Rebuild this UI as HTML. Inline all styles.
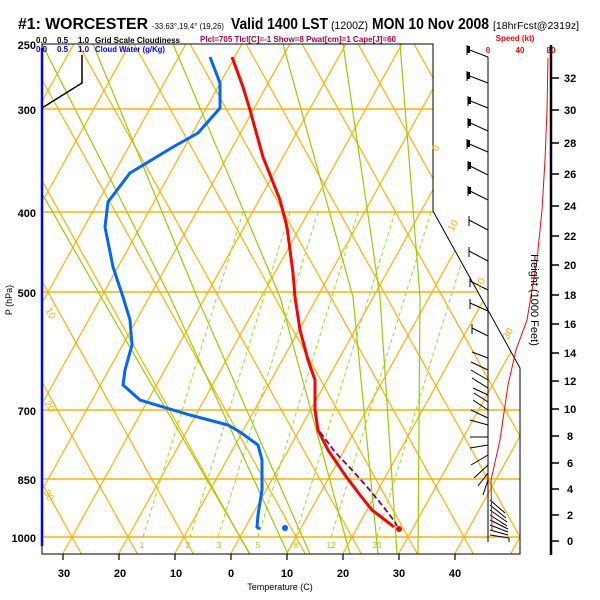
<!DOCTYPE html>
<html><head><meta charset="utf-8"><style>
html,body{margin:0;padding:0;background:#fff;}
svg{display:block;font-family:"Liberation Sans",sans-serif;}
</style></head><body>
<svg width="600" height="600" viewBox="0 0 600 600" xmlns="http://www.w3.org/2000/svg">
<defs>
<clipPath id="c"><polygon points="42,44 433,44 433,211 520,368 520,554 42,554"/></clipPath>
</defs>
<rect width="600" height="600" fill="#fff"/>
<g clip-path="url(#c)" fill="none">
<g stroke="#ffb000" stroke-width="1.2">
<path d="M-200,537 L80,33 M-144,537 L136,33 M-88,537 L192,33 M-32,537 L248,33 M16,537 L296,33 M72,537 L352,33 M128,537 L408,33 M184,537 L464,33 M240,537 L520,33 M296,537 L576,33 M352,537 L632,33 M408,537 L688,33 M464,537 L744,33 M520,537 L800,33 M576,537 L856,33"/>
<path d="M16,537 L-264,33 M72,537 L-208,33 M128,537 L-152,33 M184,537 L-96,33 M240,537 L-40,33 M296,537 L16,33 M352,537 L72,33 M408,537 L128,33 M464,537 L184,33 M520,537 L240,33 M576,537 L296,33 M632,537 L352,33 M688,537 L408,33 M744,537 L464,33 M800,537 L520,33 M856,537 L576,33"/>
<path d="M16,537 L-30,620 M72,537 L26,620 M128,537 L82,620 M184,537 L138,620 M240,537 L194,620 M296,537 L250,620 M352,537 L306,620 M408,537 L362,620 M464,537 L418,620 M520,537 L474,620 M16,537 L62,620 M72,537 L118,620 M128,537 L174,620 M184,537 L230,620 M240,537 L286,620 M296,537 L342,620 M352,537 L398,620 M408,537 L454,620 M464,537 L510,620 M-40,537 L6,620"/>
</g>
<g stroke="#ffb000" stroke-width="1.5">
<path d="M42,109H600 M42,212H600 M42,292H600 M42,410H600 M42,479H600 M42,537H600"/>
</g>
<g stroke="#99dd22" stroke-width="1" stroke-dasharray="4,3">
<path d="M143,537 L243,212 M190,537 L290,212 M218,537 L318,212 M258,537 L358,212 M295,537 L395,212 M331,537 L431,212 M377,537 L477,212"/>
</g>
<g stroke="#99cc00" stroke-width="1.2" fill="none">
<polyline points="288,554 170,297 40,40"/>
<polyline points="310,554 197,297 93,44"/>
<polyline points="350,554 280,297 173,44"/>
<polyline points="378,554 353,297 283,44"/>
<polyline points="397,554 380,297 343,44"/>
<polyline points="418,554 420,297 400,44"/>
<polyline points="250,554 120,330 0,120"/>
</g>
</g>
<polygon points="42,44 433,44 433,211 520,368 520,554 42,554" fill="none" stroke="#000" stroke-width="1"/>
<line x1="42" y1="48" x2="42" y2="546" stroke="#0000ff" stroke-width="2.5"/>
<polyline points="82,55 82,83 42,108" fill="none" stroke="#000" stroke-width="1.5"/>
<polyline fill="none" stroke="#ff0000" stroke-width="3" points="232,57 243,87 250,110 263,157 280,200 287,227 293,273 295,297 300,330 308,360 315,380 315,410 318,430 328,450 345,475 360,495 372,510 385,520 394,527"/>
<circle cx="399" cy="529" r="3" fill="#ff0000"/>
<polyline fill="none" stroke="#800060" stroke-width="1.8" stroke-dasharray="6,3" points="320,432 335,452 352,470 368,488 382,505 395,522 397,526"/>
<polyline fill="none" stroke="#0066ff" stroke-width="3" points="210,57 220,83 220,108 198,133 173,147 130,173 108,202 105,227 113,267 123,297 130,320 132,345 125,370 123,385 140,400 190,415 228,425 240,432 258,445 262,460 262,490 258,515 257,527 260,529"/>
<circle cx="285" cy="528" r="3" fill="#0066ff"/>
<line x1="488" y1="57" x2="488" y2="542" stroke="#000" stroke-width="1"/>
<g stroke="#000" stroke-width="1" fill="none">
<path d="M488,57 L467,49 M488,83 L467,75 M488,108 L468,100 M488,131 L468,122 M488,152 L467,143 M488,175 L468,165 M488,200 L468,190 M488,230 L469,220 M488,261 L469,251 M488,290 L470,281 M488,311 L470,303 M488,336 L472,328 M488,358 L472,352 M488,370 L471,362 M488,380 L471,370 M488,388 L472,378 M488,395 L473,388 M488,402 L474,393 M488,410 L473,400 M488,418 L471,410 M488,425 L470,420 M488,437 L470,437 M488,445 L470,448 M488,455 L471,465 M488,465 L474,478 M488,473 L478,486 M488,480 L483,495"/>
<path d="M490,500 L505,513 M490,505 L506,518 M490,510 L507,522 M490,515 L507,526 M490,520 L508,529 M490,525 L508,532 M490,530 L508,535 M490,535 L509,538 M509,538 L509,542"/>
<path d="M467,45 L467,55 M467,71 L467,81 M468,96 L468,106 M468,118 L468,128 M467,139 L467,149 M468,161 L468,171 M468,186 L468,196 M469,216 L469,226 M469,247 L469,257 M470,277 L470,287 M470,299 L470,309 M472,324 L472,334"/>
</g>
<g fill="#000"><rect x="467" y="46" width="3" height="7"/><rect x="467" y="72" width="3" height="7"/><rect x="468" y="97" width="3" height="7"/><rect x="468" y="119" width="3" height="7"/><rect x="467" y="140" width="3" height="7"/><rect x="468" y="162" width="3" height="7"/><rect x="468" y="187" width="3" height="7"/></g>
<polyline fill="none" stroke="#ff0000" stroke-width="1" points="548,58 547,110 545,160 542,210 537,260 527,320 516,350 508,385 500,440 491,480 492,530"/>
<text x="488" y="53" fill="#ff0000" font-size="8" font-weight="bold" text-anchor="middle">0</text>
<text x="520" y="53" fill="#ff0000" font-size="8" font-weight="bold" text-anchor="middle">40</text>
<text x="551" y="53" fill="#ff0000" font-size="8" font-weight="bold" text-anchor="middle">80</text>
<text x="515" y="41" fill="#ff0000" font-size="8" font-weight="bold" text-anchor="middle">Speed (kt)</text>
<line x1="551" y1="45" x2="551" y2="555" stroke="#000" stroke-width="2.5"/>
<g stroke="#000" stroke-width="1.5"><path d="M551,78h8M551,110h8M551,143h8M551,174h8M551,206h8M551,236h8M551,265h8M551,295h8M551,324h8M551,353h8M551,381h8M551,409h8M551,436h8M551,463h8M551,489h8M551,515h8M551,541h8"/></g>
<g font-size="11" font-weight="bold" fill="#000">
<text x="564" y="82">32</text><text x="564" y="114">30</text><text x="564" y="147">28</text><text x="564" y="178">26</text><text x="564" y="210">24</text><text x="564" y="240">22</text><text x="564" y="269">20</text><text x="564" y="299">18</text><text x="564" y="328">16</text><text x="564" y="357">14</text><text x="564" y="385">12</text><text x="564" y="413">10</text><text x="567" y="440">8</text><text x="567" y="467">6</text><text x="567" y="493">4</text><text x="567" y="519">2</text><text x="567" y="545">0</text>
</g>
<text transform="translate(531,300) rotate(90)" font-size="11" text-anchor="middle" fill="#000">Height (1000 Feet)</text>
<g font-size="11" font-weight="bold" fill="#000" text-anchor="end">
<text x="36" y="49">250</text><text x="36" y="114">300</text><text x="36" y="217">400</text><text x="36" y="297">500</text><text x="36" y="415">700</text><text x="36" y="484">850</text><text x="36" y="542">1000</text>
</g>
<text transform="translate(12,300) rotate(-90)" font-size="9" text-anchor="middle" fill="#000">P (hPa)</text>
<g stroke="#000" stroke-width="1.2"><path d="M63,554v6M119,554v6M175,554v6M231,554v6M287,554v6M343,554v6M399,554v6M455,554v6"/></g>
<g font-size="11" font-weight="bold" fill="#000" text-anchor="middle">
<text x="64" y="577">30</text><text x="120" y="577">20</text><text x="176" y="577">10</text><text x="231" y="577">0</text><text x="287" y="577">10</text><text x="343" y="577">20</text><text x="399" y="577">30</text><text x="455" y="577">40</text>
</g>
<text x="280" y="590" font-size="9" text-anchor="middle" fill="#000">Temperature (C)</text>
<g font-size="8" fill="#99cc00" text-anchor="middle">
<text x="142" y="548">1</text><text x="188" y="548">2</text><text x="219" y="548">3</text><text x="258" y="548">5</text><text x="296" y="548">8</text><text x="331" y="548">12</text><text x="377" y="548">20</text>
</g>
<g font-size="10" fill="#ffb000">
<text transform="translate(437,152) rotate(-60)">0</text>
<text transform="translate(453,232) rotate(-60)">10</text>
<text transform="translate(480,290) rotate(-60)">20</text>
<text transform="translate(508,340) rotate(-60)">30</text>
<text transform="translate(45,310) rotate(60)">10</text>
<text transform="translate(44,403) rotate(60)">20</text>
<text transform="translate(43,492) rotate(60)">30</text>
</g>
<text x="18" y="29" font-size="16" font-weight="bold" fill="#000" textLength="130" lengthAdjust="spacingAndGlyphs">#1: WORCESTER</text>
<text x="152" y="29" font-size="8" fill="#000" textLength="72" lengthAdjust="spacingAndGlyphs">-33.63°,19.4° (19,26)</text>
<text x="231" y="29" font-size="16" font-weight="bold" fill="#000" textLength="97" lengthAdjust="spacingAndGlyphs">Valid 1400 LST</text>
<text x="331" y="29" font-size="11" fill="#000" textLength="37" lengthAdjust="spacingAndGlyphs">(1200Z)</text>
<text x="372" y="29" font-size="16" font-weight="bold" fill="#000" textLength="117" lengthAdjust="spacingAndGlyphs">MON 10 Nov 2008</text>
<text x="493" y="29" font-size="10" fill="#000" textLength="86" lengthAdjust="spacingAndGlyphs">[18hrFcst@2319z]</text>
<g font-size="8" font-weight="bold" fill="#000">
<text x="36" y="43">0.0</text><text x="57" y="43">0.5</text><text x="78" y="43">1.0</text>
<text x="95" y="43" textLength="85" lengthAdjust="spacingAndGlyphs">Grid Scale Cloudiness</text>
</g>
<g font-size="8" font-weight="bold" fill="#0000ff">
<text x="36" y="52">0.0</text><text x="57" y="52">0.5</text><text x="78" y="52">1.0</text>
<text x="95" y="52" textLength="70" lengthAdjust="spacingAndGlyphs">Cloud Water (g/Kg)</text>
</g>
<text x="200" y="42" font-size="8" font-weight="bold" fill="#b00040" textLength="196" lengthAdjust="spacingAndGlyphs">Plcl=705 Tlcl[C]=-1 Show=8 Pwat[cm]=1 Cape[J]=60</text>
</svg>
</body></html>
